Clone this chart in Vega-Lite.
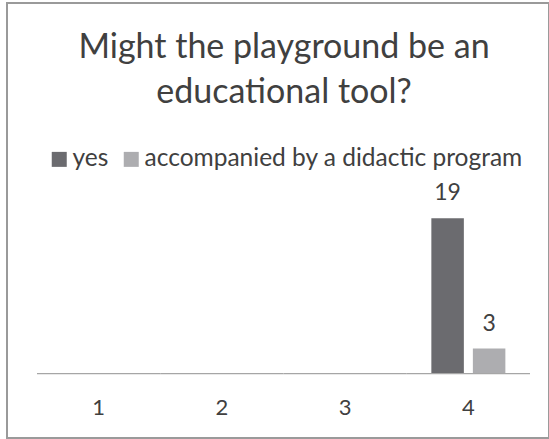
{
  "$schema": "https://vega.github.io/schema/vega-lite/v6.json",
  "width": 542,
  "height": 435,
  "autosize": "none",
  "padding": {"left": 7, "top": 3, "right": 0, "bottom": 1},
  "background": "white",
  "title": {
    "text": ["Might the playground be an", "educational tool?"],
    "font": "Lato",
    "fontSize": 34,
    "fontWeight": "normal",
    "color": "#404040",
    "lineHeight": 45,
    "anchor": "middle",
    "frame": "group",
    "offset": -107,
    "dx": 6
  },
  "config": {
    "view": {"stroke": "#9a9a9a", "strokeWidth": 2},
    "font": "Lato"
  },
  "datasets": {
    "cats": [{"cat": "1"}, {"cat": "2"}, {"cat": "3"}, {"cat": "4"}],
    "vals": [
      {"cat": "4", "series": "yes", "value": 19},
      {"cat": "4", "series": "accompanied by a didactic program", "value": 3}
    ]
  },
  "layer": [
    {
      "data": {"name": "cats"},
      "mark": {"type": "rect", "color": "#a6a6a6"},
      "encoding": {
        "x": {
          "field": "cat",
          "type": "ordinal",
          "scale": {"domain": ["1", "2", "3", "4"], "paddingInner": 0, "paddingOuter": 0.1988, "align": 0.612},
          "axis": {
            "title": null,
            "labelAngle": 0,
            "ticks": false,
            "domain": false,
            "grid": false,
            "labelFont": "Lato",
            "labelFontSize": 22,
            "labelColor": "#404040",
            "labelPadding": 0,
            "labelBaseline": "middle",
            "offset": -31
          }
        },
        "y": {"datum": 0, "type": "quantitative", "scale": {"domain": [-7.98, 45.4], "nice": false, "zero": false}, "axis": null},
        "y2": {"datum": -0.15}
      }
    },
    {
      "data": {"name": "vals"},
      "mark": {"type": "bar"},
      "encoding": {
        "x": {"field": "cat", "type": "ordinal"},
        "xOffset": {
          "field": "series",
          "type": "nominal",
          "scale": {"domain": ["yes", "accompanied by a didactic program"], "paddingInner": 0.217, "paddingOuter": 0.593}
        },
        "y": {"field": "value", "type": "quantitative"},
        "color": {
          "field": "series",
          "type": "nominal",
          "scale": {"domain": ["yes", "accompanied by a didactic program"], "range": ["#6b6b6f", "#adadb0"]},
          "legend": {
            "orient": "none",
            "legendX": 40,
            "legendY": 144,
            "direction": "horizontal",
            "title": null,
            "padding": 0,
            "symbolType": "square",
            "symbolSize": 225,
            "symbolStrokeWidth": 0,
            "labelFont": "Lato",
            "labelFontSize": 24.5,
            "labelColor": "#404040",
            "labelOffset": 1,
            "columnPadding": 10,
            "labelLimit": 500
          }
        }
      }
    },
    {
      "data": {"name": "vals"},
      "mark": {"type": "text", "baseline": "alphabetic", "dy": -18, "font": "Lato", "fontSize": 23, "color": "#404040"},
      "encoding": {
        "x": {"field": "cat", "type": "ordinal"},
        "xOffset": {"field": "series", "type": "nominal"},
        "y": {"field": "value", "type": "quantitative"},
        "text": {"field": "value", "type": "quantitative"}
      }
    }
  ]
}
